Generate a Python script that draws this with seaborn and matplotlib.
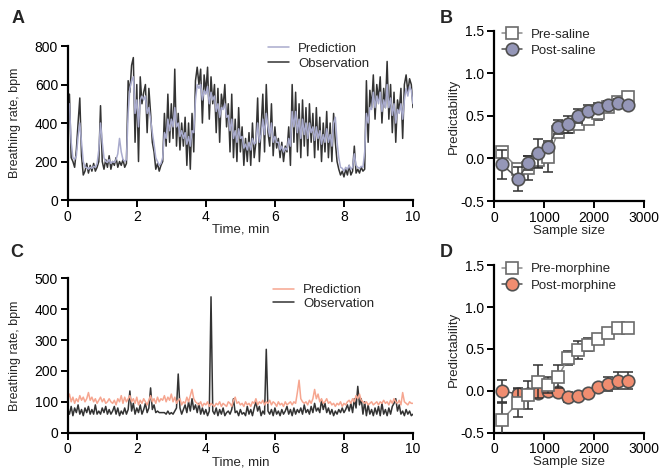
"""Breathing-rate prediction figure: time series (A, C) and predictability curves (B, D)."""

import matplotlib
matplotlib.use("Agg")
import matplotlib.pyplot as plt
import numpy as np
import pandas as pd
import seaborn as sns

# time axis for the breathing traces (minutes)
TIME = np.round(np.arange(0, 10.001, 0.05), 2)

# panel A: saline session
SAL_OBS = [
    480, 550, 220, 200, 170, 260, 400, 530, 230, 130, 150, 190, 140, 180, 150, 190, 150, 170, 200, 490,
    200, 160, 210, 170, 230, 160, 200, 180, 220, 170, 200, 180, 210, 170, 190, 620, 560, 700, 740, 300,
    600, 200, 640, 500, 560, 600, 350, 580, 450, 300, 250, 160, 190, 150, 180, 200, 450, 280, 550, 300,
    500, 320, 680, 280, 450, 260, 400, 280, 430, 180, 400, 160, 450, 250, 620, 690, 600, 680, 400, 650,
    560, 690, 420, 640, 500, 600, 350, 580, 300, 550, 480, 600, 380, 500, 250, 550, 220, 420, 200, 480,
    250, 380, 180, 320, 200, 350, 180, 400, 220, 300, 530, 200, 380, 550, 250, 600, 350, 280, 500, 230,
    380, 270, 320, 220, 300, 200, 280, 250, 380, 180, 600, 300, 560, 250, 500, 220, 520, 280, 480, 230,
    500, 300, 450, 220, 480, 260, 430, 200, 400, 250, 460, 220, 400, 200, 450, 300, 200, 160, 130, 150,
    120, 160, 130, 180, 130, 150, 280, 140, 160, 140, 170, 150, 160, 620, 300, 570, 480, 650, 420, 600,
    520, 640, 400, 580, 480, 720, 420, 600, 350, 560, 300, 520, 460, 580, 320, 600, 650, 560, 630, 600,
    480,
]
SAL_PRED = [
    480, 500, 300, 220, 210, 230, 330, 400, 300, 200, 170, 170, 160, 170, 165, 175, 170, 190, 260, 400,
    300, 220, 200, 195, 210, 190, 200, 195, 210, 240, 320, 250, 210, 200, 210, 450, 580, 620, 640, 450,
    520, 380, 520, 540, 520, 540, 450, 480, 420, 350, 290, 220, 200, 180, 190, 220, 350, 320, 420, 360,
    420, 380, 480, 380, 400, 330, 360, 320, 350, 290, 330, 280, 360, 350, 520, 600, 580, 600, 520, 570,
    550, 590, 500, 560, 520, 540, 460, 500, 430, 480, 470, 500, 430, 440, 360, 420, 320, 360, 300, 370,
    320, 330, 270, 290, 260, 300, 260, 320, 290, 300, 400, 300, 340, 420, 340, 450, 380, 330, 400, 300,
    330, 300, 300, 260, 280, 250, 270, 260, 320, 280, 460, 380, 460, 350, 420, 320, 420, 340, 400, 320,
    400, 350, 380, 310, 380, 320, 360, 290, 340, 300, 370, 300, 340, 280, 400, 430, 300, 220, 170, 165,
    150, 170, 160, 180, 160, 170, 240, 180, 170, 165, 175, 170, 250, 450, 400, 480, 470, 560, 480, 540,
    500, 560, 460, 520, 480, 600, 480, 530, 440, 500, 400, 470, 450, 500, 420, 520, 580, 540, 590, 570,
    500,
]

# panel C: morphine session
MOR_OBS = [
    75, 60, 85, 55, 80, 65, 90, 60, 75, 55, 80, 65, 85, 60, 75, 60, 90, 60, 70, 60,
    80, 65, 85, 60, 75, 60, 70, 85, 60, 80, 55, 70, 60, 80, 60, 75, 135, 70, 95, 60,
    80, 65, 90, 60, 75, 95, 65, 80, 145, 75, 90, 65, 70, 65, 65, 65, 65, 60, 70, 60,
    65, 60, 70, 80, 190, 80, 60, 75, 90, 65, 100, 70, 110, 75, 90, 65, 95, 60, 80, 60,
    75, 55, 70, 440, 70, 60, 80, 55, 75, 60, 80, 55, 65, 70, 60, 75, 110, 65, 70, 55,
    75, 60, 65, 55, 85, 60, 75, 55, 80, 100, 70, 85, 55, 70, 60, 270, 70, 60, 75, 55,
    80, 60, 70, 55, 75, 60, 70, 85, 60, 75, 55, 80, 60, 75, 65, 80, 60, 90, 65, 75,
    60, 85, 65, 95, 70, 80, 65, 105, 75, 95, 65, 80, 60, 75, 55, 70, 60, 75, 65, 80,
    65, 75, 90, 70, 95, 65, 110, 80, 150, 90, 110, 60, 100, 55, 90, 60, 75, 55, 80, 60,
    85, 55, 95, 60, 75, 55, 80, 60, 85, 95, 110, 70, 90, 60, 70, 55, 75, 60, 70, 55,
    60,
]
MOR_PRED = [
    110, 125, 100, 115, 95, 110, 100, 120, 105, 115, 100, 110, 130, 105, 115, 100, 110, 95, 105, 115,
    100, 110, 95, 100, 110, 100, 95, 105, 90, 110, 100, 120, 95, 115, 100, 110, 120, 100, 110, 95,
    115, 90, 105, 95, 110, 100, 90, 105, 120, 100, 110, 95, 115, 100, 110, 105, 120, 100, 115, 105,
    125, 100, 115, 95, 105, 110, 90, 100, 95, 115, 100, 120, 140, 110, 100, 95, 90, 100, 85, 95,
    90, 100, 85, 95, 90, 85, 95, 90, 100, 85, 95, 90, 85, 100, 95, 85, 105, 115, 95, 100,
    90, 95, 85, 100, 90, 95, 85, 100, 95, 110, 90, 100, 95, 105, 90, 100, 95, 105, 90, 100,
    95, 85, 100, 90, 95, 85, 100, 90, 95, 100, 90, 100, 95, 130, 170, 110, 100, 95, 100, 90,
    105, 95, 110, 140, 110, 125, 100, 110, 95, 100, 110, 95, 100, 90, 95, 85, 95, 90, 100, 85,
    95, 90, 100, 105, 95, 110, 100, 120, 110, 125, 105, 100, 95, 100, 90, 95, 100, 90, 95, 100,
    90, 100, 95, 105, 95, 100, 90, 105, 95, 110, 100, 95, 105, 90, 130, 100, 95, 90, 100, 95,
    95,
]

# panels B and D: predictability vs sample size (mean, error)
SAMPLE_SIZE = [150, 480, 680, 880, 1080, 1280, 1480, 1680, 1880, 2080, 2280, 2480, 2680]
PRE_SAL = [0.08, -0.12, -0.11, -0.02, 0.02, 0.31, 0.37, 0.40, 0.46, 0.53, 0.61, 0.66, 0.72]
PRE_SAL_ERR = [0.05, 0.05, 0.14, 0.08, 0.18, 0.05, 0.06, 0.06, 0.06, 0.08, 0.05, 0.06, 0.06]
POST_SAL = [-0.07, -0.24, -0.05, 0.06, 0.14, 0.37, 0.40, 0.50, 0.56, 0.59, 0.63, 0.65, 0.63]
POST_SAL_ERR = [0.17, 0.14, 0.08, 0.17, 0.04, 0.08, 0.10, 0.08, 0.07, 0.06, 0.05, 0.05, 0.04]
PRE_MOR = [-0.35, -0.14, -0.05, 0.11, 0.07, 0.17, 0.39, 0.49, 0.55, 0.62, 0.69, 0.75, 0.75]
PRE_MOR_ERR = [0.20, 0.17, 0.17, 0.20, 0.10, 0.14, 0.08, 0.11, 0.08, 0.03, 0.03, 0.03, 0.03]
POST_MOR = [0.00, -0.04, -0.04, -0.02, 0.00, -0.01, -0.07, -0.06, -0.02, 0.05, 0.08, 0.12, 0.12]
POST_MOR_ERR = [0.13, 0.06, 0.05, 0.06, 0.05, 0.04, 0.06, 0.03, 0.02, 0.03, 0.08, 0.10, 0.10]

LAVENDER = "#a9abcd"
SALMON = "#f6a690"
DARK = "#333333"
FS = 9.5


def style_axes(ax):
    sns.despine(ax=ax)
    for side in ("left", "bottom"):
        ax.spines[side].set_linewidth(1.6)
        ax.spines[side].set_color("black")
    ax.tick_params(direction="out", length=5, width=1.4, labelsize=10, pad=2, colors="black")
    ax.set_facecolor("none")


def trace_panel(ax, obs, pred, pred_color, ymax, ystep):
    df = pd.DataFrame({"t": TIME, "Observation": obs, "Prediction": pred})
    colors = {"Observation": DARK, "Prediction": pred_color}
    for name in ["Observation", "Prediction"]:
        sns.lineplot(data=df, x="t", y=name, ax=ax, color=colors[name], lw=1.1,
                     label=name, legend=False)
    ax.set_xlim(0, 10)
    ax.set_ylim(0, ymax)
    ax.set_xticks(range(0, 11, 2))
    ax.set_yticks(np.arange(0, ymax + 1, ystep))
    ax.set_xlabel("Time, min", fontsize=FS, labelpad=0)
    ax.set_ylabel("Breathing rate, bpm", fontsize=9)
    ax.yaxis.set_label_coords(-0.135, 0.5)
    style_axes(ax)
    handles, labels = ax.get_legend_handles_labels()
    by = dict(zip(labels, handles))
    return [by["Prediction"], by["Observation"]]


def curve_panel(ax, pre, pre_err, post, post_err, post_color, labels, post_on_top):
    df = pd.DataFrame({"n": SAMPLE_SIZE, "pre": pre, "post": post})
    series = [
        ("pre", pre_err, dict(marker="s", markersize=8.5, markerfacecolor="white",
                              markeredgecolor="#6b6b6b", color="#8a8a8a"), labels[0]),
        ("post", post_err, dict(marker="o", markersize=9, markerfacecolor=post_color,
                                markeredgecolor="#505050", color="#505050"), labels[1]),
    ]
    if not post_on_top:
        series = series[::-1]
    for z, (col, err, kw, lab) in enumerate(series):
        ax.errorbar(df["n"], df[col], yerr=err, fmt="none", ecolor="#303030",
                    elinewidth=1.1, capsize=3.5, capthick=1.1, zorder=2 + 2 * z)
        sns.lineplot(data=df, x="n", y=col, ax=ax, lw=1.1, markeredgewidth=1.2,
                     zorder=3 + 2 * z, label=lab, legend=False, **kw)
    h, l = ax.get_legend_handles_labels()
    handles = dict(zip(l, h))
    ax.set_xlim(0, 3000)
    ax.set_ylim(-0.5, 1.5)
    ax.set_xticks([0, 1000, 2000, 3000])
    ax.set_yticks([-0.5, 0.0, 0.5, 1.0, 1.5])
    ax.set_yticklabels(["-0.5", "0.0", "0.5", "1.0", "1.5"])
    ax.set_xlabel("Sample size", fontsize=FS, labelpad=0)
    ax.set_ylabel("Predictability", fontsize=FS)
    ax.yaxis.set_label_coords(-0.23, 0.5)
    style_axes(ax)
    ax.legend([handles[labels[0]], handles[labels[1]]], labels, loc="upper left",
              bbox_to_anchor=(0.0, 1.06), frameon=False, fontsize=FS, handlelength=1.5,
              handletextpad=0.7, labelspacing=0.3, borderaxespad=0.2)


def main() -> None:
    sns.set_theme(style="ticks")
    plt.rcParams["font.family"] = ["Liberation Sans", "DejaVu Sans"]

    fig = plt.figure(figsize=(6.62, 4.75), dpi=100)
    ax_a = fig.add_axes([0.1023, 0.5789, 0.5216, 0.3242])
    ax_b = fig.add_axes([0.7467, 0.5768, 0.2261, 0.3585])
    ax_c = fig.add_axes([0.1023, 0.0891, 0.5216, 0.3250])
    ax_d = fig.add_axes([0.7467, 0.0891, 0.2261, 0.3524])

    h = trace_panel(ax_a, SAL_OBS, SAL_PRED, LAVENDER, 800, 200)
    ax_a.legend(h, ["Prediction", "Observation"], loc="upper left", bbox_to_anchor=(0.545, 1.1),
                frameon=False, fontsize=FS, handlelength=1.6, handletextpad=0.7,
                labelspacing=0.2)
    h = trace_panel(ax_c, MOR_OBS, MOR_PRED, SALMON, 500, 100)
    ax_c.legend(h, ["Prediction", "Observation"], loc="upper left", bbox_to_anchor=(0.56, 1.04),
                frameon=False, fontsize=FS, handlelength=1.6, handletextpad=0.7,
                labelspacing=0.1)

    curve_panel(ax_b, PRE_SAL, PRE_SAL_ERR, POST_SAL, POST_SAL_ERR, "#9597b8",
                ["Pre-saline", "Post-saline"], post_on_top=True)
    curve_panel(ax_d, PRE_MOR, PRE_MOR_ERR, POST_MOR, POST_MOR_ERR, "#f08d70",
                ["Pre-morphine", "Post-morphine"], post_on_top=False)

    for letter, x, y in [("A", 0.018, 0.978), ("B", 0.664, 0.978),
                         ("C", 0.015, 0.487), ("D", 0.664, 0.487)]:
        fig.text(x, y, letter, fontsize=13, fontweight="bold", va="top", ha="left")

    fig.savefig("out.png", dpi=100)


if __name__ == "__main__":
    main()
